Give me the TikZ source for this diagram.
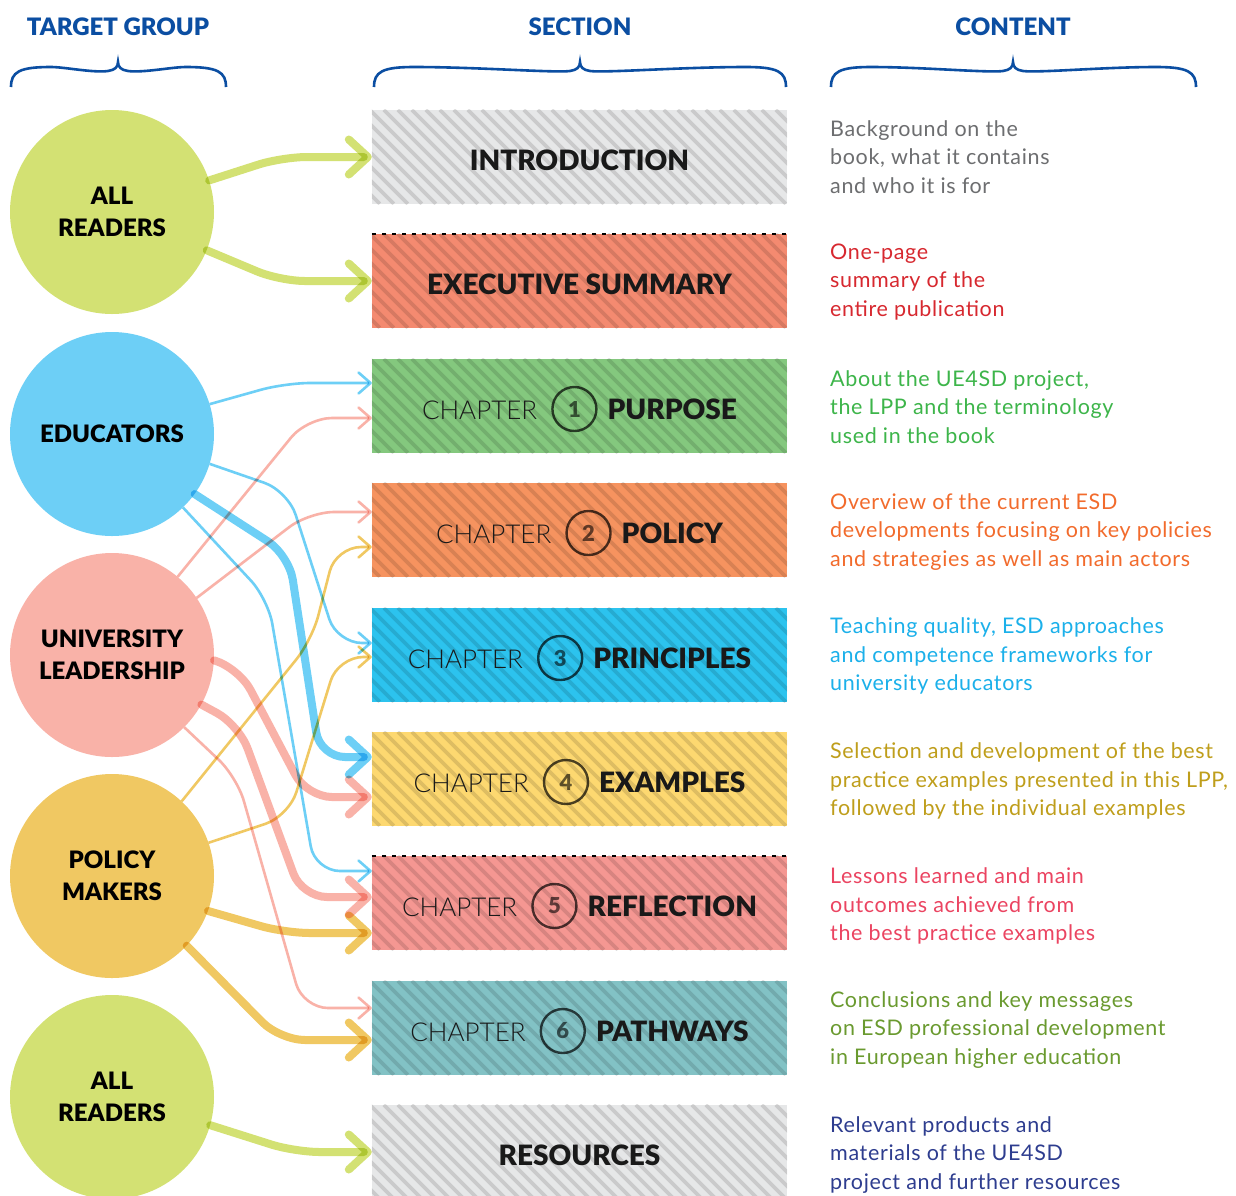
\documentclass[tikz,border=0pt]{standalone}
\usepackage{fontspec}
\setmainfont{Lato}
\newfontfamily\thinfont{Lato Light}
\newfontfamily\heavyfont{Lato Black}
\usetikzlibrary{arrows.meta}

\definecolor{headblue}{HTML}{0B4EA2}
\definecolor{readgreen}{HTML}{D3E173}
\definecolor{edublue}{HTML}{6DCFF6}
\definecolor{unipink}{HTML}{F9B2A8}
\definecolor{polyellow}{HTML}{F0C862}
\definecolor{introgray}{HTML}{E6E7E8}
\definecolor{execsalmon}{HTML}{F48A70}
\definecolor{purposegreen}{HTML}{84C87E}
\definecolor{policyorange}{HTML}{F6935F}
\definecolor{principlescyan}{HTML}{2CC3EE}
\definecolor{examplesyellow}{HTML}{FDD870}
\definecolor{reflectionpink}{HTML}{F59792}
\definecolor{pathwaysteal}{HTML}{82C2C5}
\definecolor{introtext}{HTML}{6D6E70}
\definecolor{exectext}{HTML}{D7282F}
\definecolor{purposetext}{HTML}{3DB54A}
\definecolor{policytext}{HTML}{F26B2C}
\definecolor{principlestext}{HTML}{1BB0EA}
\definecolor{examplestext}{HTML}{BF9E1B}
\definecolor{reflectiontext}{HTML}{EB4461}
\definecolor{pathwaystext}{HTML}{6A9A2F}
\definecolor{resourcestext}{HTML}{2E3D8F}

\tikzset{
  group/.style={circle, minimum size=204pt, inner sep=0pt, align=center,
    font=\heavyfont\fontsize{24}{32}\selectfont},
  sectbox/.style={minimum width=415pt, minimum height=94pt, inner sep=0pt},
  hatch/.style={draw=black, draw opacity=0.12, line width=3.6pt},
  sectlabel/.style={yshift=-3pt, text=black!90, font=\heavyfont\fontsize{28}{28}\selectfont},
  desc/.style={anchor=west, align=left, inner sep=0pt,
    font=\fontsize{21.5}{28.7}\selectfont\addfontfeature{LetterSpace=3}},
  head/.style={text=headblue, font=\heavyfont\fontsize{24}{24}\selectfont},
  thinarr/.style={line width=2.6pt, rounded corners=25pt,
    -{Straight Barb[length=12pt,width=21pt,round]}},
  thickarr/.style={line width=8pt, line cap=round, rounded corners=25pt,
    -{Straight Barb[length=19pt,width=35pt,round]}},
  bracket/.style={draw=headblue, line width=2.6pt},
  cutline/.style={draw=black, line width=1.6pt, dash pattern=on 4pt off 6pt},
  numring/.style={circle, draw=black, draw opacity=0.7, line width=2.4pt, minimum size=44pt,
    inner sep=0pt, text=black, text opacity=0.6, font=\heavyfont\fontsize{22}{22}\selectfont}
}

\newcommand{\chapnum}[1]{\tikz[baseline={([yshift=-10pt]n.center)}]\node[numring] (n) {#1};}
\newcommand{\topbrace}[3]{%
  \draw[bracket] (#1,87) .. controls (#1,72) and (#1+8,67) .. (#1+40,67)
    .. controls ({(#1+#2)/2},67) and (#2-25,73) .. (#2-10,71)
    .. controls (#2-3,70) and (#2,67) .. (#2,62)
    .. controls (#2,67) and (#2+3,70) .. (#2+10,71)
    .. controls (#2+25,73) and ({(#2+#3)/2},67) .. (#3-40,67)
    .. controls (#3-8,67) and (#3,72) .. (#3,87);}

\begin{document}
\begin{tikzpicture}[x=1pt, y=-1pt]
  \path[use as bounding box, fill=white] (0,0) rectangle (1236,1195);

  % headings
  \node[head] (hdgroup) at (118,27) {TARGET GROUP};
  \node[head] (hdsection) at (580,27) {SECTION};
  \node[head] (hdcontent) at (1013,27) {CONTENT};
  \topbrace{11}{118}{226}
  \topbrace{374}{580}{786}
  \topbrace{831}{1013}{1196}

  % section boxes
  \foreach \nm/\y/\col in {intro/157/introgray, exec/281/execsalmon, purpose/406/purposegreen,
      policy/530/policyorange, principles/655/principlescyan, examples/779/examplesyellow,
      reflection/903/reflectionpink, pathways/1028/pathwaysteal, resources/1152/introgray} {
    \node[sectbox, fill=\col] (\nm) at (579.5,\y) {};
    \begin{scope}
      \clip (\nm.north west) rectangle (\nm.south east);
      \foreach \s in {-100,-86,...,420}
        \draw[hatch] ([xshift=\s pt]\nm.north west) -- ++(94,94);
    \end{scope}
  }
  \draw[cutline] (exec.north west) -- (exec.north east);
  \draw[cutline] (reflection.north west) -- (reflection.north east);

  \node[sectlabel] at (intro) {INTRODUCTION};
  \node[sectlabel] at (exec) {EXECUTIVE SUMMARY};
  \node[sectlabel] at (resources) {RESOURCES};
  \foreach \nm/\num/\title in {purpose/1/PURPOSE, policy/2/POLICY, principles/3/PRINCIPLES,
      examples/4/EXAMPLES, reflection/5/REFLECTION, pathways/6/PATHWAYS}
    \node[sectlabel] at (\nm) {{\thinfont\fontsize{26}{26}\selectfont CHAPTER}\hspace{14pt}\chapnum{\num}\hspace{10pt}\title};

  % target groups
  \node[group, fill=readgreen] (allA) at (112,212) {ALL\\READERS};
  \node[group, fill=edublue] (edu) at (112,434) {EDUCATORS};
  \node[group, fill=unipink] (uni) at (112,655) {UNIVERSITY\\LEADERSHIP};
  \node[group, fill=polyellow] (pol) at (112,876) {POLICY\\MAKERS};
  \node[group, fill=readgreen] (allB) at (112,1097) {ALL\\READERS};

  % connectors
  \begin{scope}[blend mode=multiply]
    \draw[thickarr, readgreen] (allA.18) -- (282,157) -- (intro.west);
    \draw[thickarr, readgreen] (allA.-22) -- (280,281) -- (exec.west);
    \draw[thickarr, readgreen] (allB.-16) -- (295,1152) -- (resources.west);

    \draw[thinarr, edublue] (edu.17) -- (285,383) -- ([yshift=23pt]purpose.west);
    \draw[thinarr, edublue] (edu.-17) -- (288,491) -- (337,643) -- ([yshift=12pt]principles.west);
    \draw[thickarr, edublue] (edu.-36) -- (289,555) -- (320,757) -- ([yshift=22pt]examples.west);
    \draw[thinarr, edublue] (edu.-46) -- (268,599) -- (315,871) -- ([yshift=32pt]reflection.west);

    \draw[thinarr, unipink] (uni.50) -- (307,418) -- ([yshift=-12pt]purpose.west);
    \draw[thinarr, unipink] (uni.34) -- (309,512) -- ([yshift=18pt]policy.west);
    \draw[thickarr, unipink] (uni.-3) -- (239,668) -- (307,797) -- ([yshift=-18pt]examples.west);
    \draw[thickarr, unipink] (uni.-29) -- (239,725) -- (302,897) -- ([yshift=6pt]reflection.west);
    \draw[thinarr, unipink] (uni.-45) -- (237,777) -- (303,1008) -- ([yshift=20pt]pathways.west);

    \draw[thinarr, polyellow] (pol.47) -- (312,640) -- (336,547) -- ([yshift=-17pt]policy.west);
    \draw[thinarr, polyellow] (pol.19) -- (289,816) -- (338,657) -- ([yshift=-2pt]principles.west);
    \draw[thickarr, polyellow] (pol.-20) -- (285,933) -- ([yshift=-30pt]reflection.west);
    \draw[thickarr, polyellow] (pol.-43) -- (280,1040) -- ([yshift=-12pt]pathways.west);
  \end{scope}

  % content
  \node[desc, text=introtext] (cintro) at (830,157) {Background on the\\book, what it contains\\and who it is for};
  \node[desc, text=exectext] (cexec) at (830,282) {One-page\\summary of the\\entire publication};
  \node[desc, text=purposetext] (cpurpose) at (830,407) {About the UE4SD project,\\the LPP and the terminology\\used in the book};
  \node[desc, text=policytext] (cpolicy) at (830,532) {Overview of the current ESD\\developments focusing on key policies\\and strategies as well as main actors};
  \node[desc, text=principlestext] (cprinciples) at (830,656) {Teaching quality, ESD approaches\\and competence frameworks for\\university educators};
  \node[desc, text=examplestext] (cexamples) at (830,781) {Selection and development of the best\\practice examples presented in this LPP,\\followed by the individual examples};
  \node[desc, text=reflectiontext] (creflection) at (830,906) {Lessons learned and main\\outcomes achieved from\\the best practice examples};
  \node[desc, text=pathwaystext] (cpathways) at (830,1030) {Conclusions and key messages\\on ESD professional development\\in European higher education};
  \node[desc, text=resourcestext] (cresources) at (830,1155) {Relevant products and\\materials of the UE4SD\\project and further resources};
\end{tikzpicture}
\end{document}
